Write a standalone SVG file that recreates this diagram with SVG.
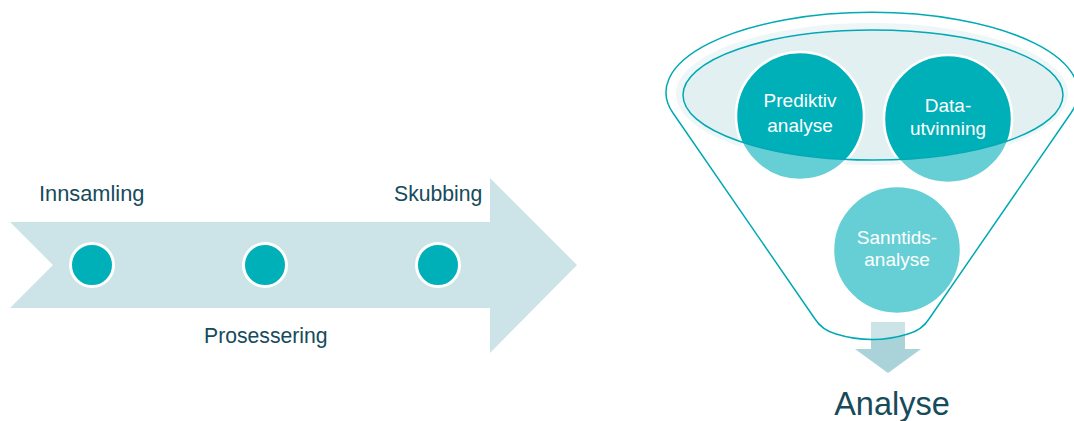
<svg xmlns="http://www.w3.org/2000/svg" width="1074" height="421" viewBox="0 0 1074 421">
  <style>
    .lbl { font-family: "Liberation Sans", Arial, sans-serif; fill: #164b5b; }
    .in { font-family: "Liberation Sans", Arial, sans-serif; fill: #ffffff; font-size: 19px; text-anchor: middle; }
    .dot { fill: #00b0b9; stroke: #ffffff; stroke-width: 3; }
    .bub { fill: #00b0b9; stroke: #ffffff; stroke-width: 2.5; }
  </style>
  <rect width="1074" height="421" fill="#ffffff"/>

  <g id="process-arrow">
    <polygon points="10,222 490,222 490,178 577,265 490,353 490,308 10,308 53,265" fill="#cce4e8"/>
  </g>
  <g id="innsamling">
    <circle class="dot" cx="92" cy="265" r="21.5"/>
    <text class="lbl" x="39" y="201" font-size="21.8">Innsamling</text>
  </g>
  <g id="prosessering">
    <circle class="dot" cx="265" cy="265" r="21.5"/>
    <text class="lbl" x="204" y="343" font-size="21.2">Prosessering</text>
  </g>
  <g id="skubbing">
    <circle class="dot" cx="438" cy="265" r="21.5"/>
    <text class="lbl" x="394" y="201" font-size="21.2">Skubbing</text>
  </g>

  <g id="connectors">
    <polygon id="down-arrow" points="871,322 905,322 905,349 921,349 888,373 855,349 871,349" fill="#a9d3d9"/>
  </g>

  <g id="funnel-top">
    <ellipse cx="872" cy="94" rx="196" ry="71" fill="#e3f0f2"/>
    <ellipse cx="873" cy="95" rx="190" ry="65" fill="#e3f0f2"/>
  </g>

  <g id="prediktiv-analyse">
    <circle class="bub" cx="800" cy="116" r="64"/>
    <text class="in" x="800" y="107">Prediktiv</text>
    <text class="in" x="800" y="132">analyse</text>
  </g>
  <g id="datautvinning">
    <circle class="bub" cx="948" cy="119" r="64"/>
    <text class="in" x="948" y="112">Data-</text>
    <text class="in" x="948" y="135">utvinning</text>
  </g>
  <g id="sanntidsanalyse">
    <circle class="bub" cx="897" cy="250" r="64"/>
    <text class="in" x="897" y="244">Sanntids-</text>
    <text class="in" x="897" y="266">analyse</text>
  </g>

  <g id="funnel">
    <path d="M 673 113 A 206 80 0 1 1 1071 113 L 929 319 Q 922 330 908 334 Q 872 345 836 334 Q 822 330 815 319 Z M 683 95 A 190 65 0 1 0 1063 95 A 190 65 0 1 0 683 95 Z" fill="#ffffff" fill-opacity="0.4" fill-rule="evenodd" stroke="#00a9b5" stroke-width="1.5"/>
  </g>

  <g id="analyse">
    <text class="lbl" x="892" y="415" font-size="32.5" text-anchor="middle" fill="#0f4757">Analyse</text>
  </g>
</svg>
